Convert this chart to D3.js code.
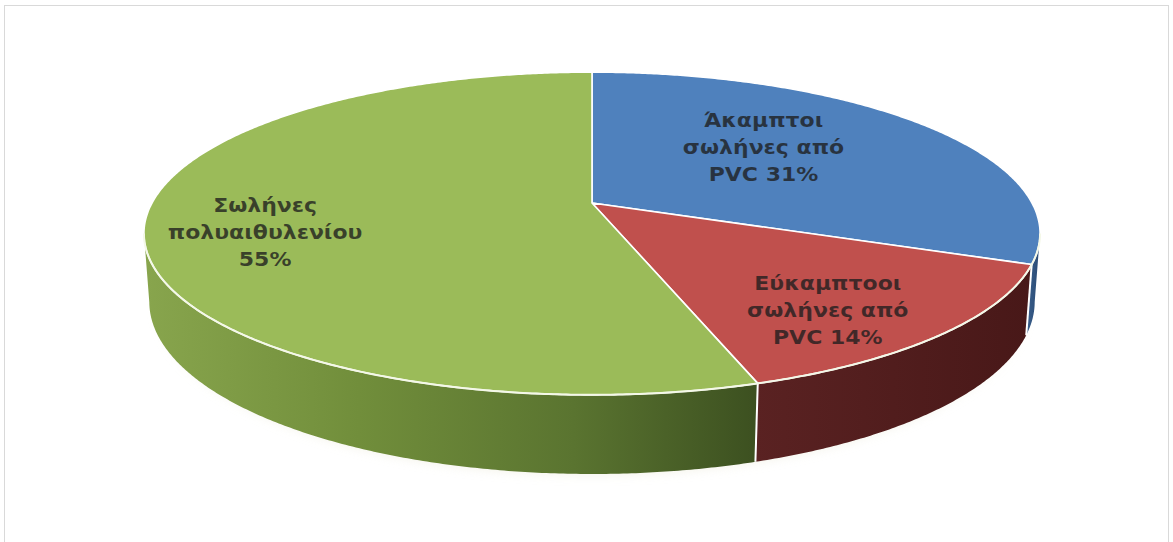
<!DOCTYPE html>
<html>
<head>
<meta charset="utf-8">
<script src="https://cdn.jsdelivr.net/npm/d3@7"></script>
<style>
  body { margin: 0; background: #fff; }
</style>
</head>
<body>
<div id="my_pie"></div>
<script>
// data
const categories = [
  ["Άκαμπτοι", "σωλήνες από", "PVC"],
  ["Εύκαμπτοοι", "σωλήνες από", "PVC"],
  ["Σωλήνες", "πολυαιθυλενίου"]
];
const values = [31, 14, 55];
const pctOwnLine = [false, false, true];
const topColors = ["#4f81bd", "#c0504d", "#9bbb59"];

const pie3d = {
  specs : {width: 1173, height: 542, cx: 592, cy: 203, R: 440, T: 72, alpha: 0.3615, dist: 2179},
  svg : null,
  initialize : () => {
    pie3d.svg = d3.select("#my_pie")
      .append("svg")
      .attr("width", pie3d.specs.width)
      .attr("height", pie3d.specs.height);
    pie3d.draw();
  },
  // phi clockwise from the back of the pie, r radius, y height (0 = top face)
  project : (phi, r, y) => {
    const {cx, cy, alpha, dist} = pie3d.specs;
    const X = r * Math.sin(phi), Z = -r * Math.cos(phi);
    const yc = y * Math.cos(alpha) - Z * Math.sin(alpha);
    const depth = dist - (Z * Math.cos(alpha) + y * Math.sin(alpha));
    const s = dist / depth;
    return [cx + X * s, cy - yc * s];
  },
  arcPts : (a0, a1, r, y) => {
    const n = Math.max(2, Math.ceil((a1 - a0) / 0.008));
    return d3.range(n + 1).map(i => pie3d.project(a0 + (a1 - a0) * i / n, r, y));
  },
  draw : () => {
    const svg = pie3d.svg;
    const {R, T, alpha, dist} = pie3d.specs;
    const project = pie3d.project;

    // chart frame
    svg.append("rect")
      .attr("x", 4.5).attr("y", 5.5)
      .attr("width", 1164).attr("height", 600)
      .attr("fill", "none")
      .attr("stroke", "#d9d9d9");

    const arcs = d3.pie().sort(null)(values);

    // silhouette of the side wall
    const k = R * Math.cos(alpha) / dist;
    const phiL = Math.acos(-k), phiR = 2 * Math.PI - Math.acos(-k);

    const defs = svg.append("defs");
    const sideGrads = [
      [["0", "#3a5f8c"], ["1", "#2a4a74"]],
      [["0", "#5a2222"], ["1", "#481818"]],
      [["0", "#88a54d"], ["0.35", "#718e3b"], ["0.7", "#5a7430"], ["1", "#3c5020"]]
    ];
    const line = d3.line().curve(d3.curveLinearClosed);

    // faint shadow under the pie
    const blur = defs.append("filter").attr("id", "blur").attr("x", "-20%").attr("y", "-50%").attr("width", "140%").attr("height", "200%");
    blur.append("feGaussianBlur").attr("stdDeviation", 6);
    svg.append("path")
      .attr("d", line(pie3d.arcPts(phiL, phiR, R * 0.98, -T - 4)))
      .attr("fill", "#e8e6d0")
      .attr("opacity", 0.6)
      .attr("filter", "url(#blur)");

    // side walls
    arcs.forEach((a, i) => {
      const lo = Math.max(a.startAngle, phiL), hi = Math.min(a.endAngle, phiR);
      if (lo >= hi) return;
      const top = pie3d.arcPts(lo, hi, R, 0);
      const bot = pie3d.arcPts(lo, hi, R, -T).reverse();
      const xs = top.concat(bot).map(p => p[0]);
      const g = defs.append("linearGradient")
        .attr("id", "side" + i)
        .attr("gradientUnits", "userSpaceOnUse")
        .attr("x1", d3.min(xs)).attr("x2", d3.max(xs))
        .attr("y1", 0).attr("y2", 0);
      sideGrads[i].forEach(s => g.append("stop").attr("offset", s[0]).attr("stop-color", s[1]));
      svg.append("path")
        .attr("d", line(top.concat(bot)))
        .attr("fill", "url(#side" + i + ")");
    });

    // white seams on the side at slice boundaries
    arcs.forEach(a => {
      const phi = a.endAngle;
      if (phi > phiL && phi < phiR) {
        const p0 = project(phi, R, 0), p1 = project(phi, R, -T);
        svg.append("line")
          .attr("x1", p0[0]).attr("y1", p0[1])
          .attr("x2", p1[0]).attr("y2", p1[1])
          .attr("stroke", "#fff").attr("stroke-width", 2);
      }
    });

    // top faces
    const c = project(0, 0, 0);
    arcs.forEach((a, i) => {
      const pts = [c].concat(pie3d.arcPts(a.startAngle, a.endAngle, R, 0));
      svg.append("path")
        .attr("d", line(pts))
        .attr("fill", topColors[i])
        .attr("stroke", "#fff")
        .attr("stroke-width", 1.6)
        .attr("stroke-linejoin", "round");
    });

    // rim highlight along the front edge
    svg.append("path")
      .attr("d", d3.line()(pie3d.arcPts(phiL, phiR, R, 0)))
      .attr("fill", "none")
      .attr("stroke", "#f4f8e8")
      .attr("stroke-width", 2);

    // labels
    const labelLayout = [[0.57, -0.15], [0.77, 0.09], [0.74, -0.09]];
    arcs.forEach((a, i) => {
      const mid = (a.startAngle + a.endAngle) / 2 + labelLayout[i][1];
      const p = project(mid, R * labelLayout[i][0], 0);
      const lines = categories[i].slice();
      const pct = values[i] + "%";
      if (pctOwnLine[i]) lines.push(pct);
      else lines[lines.length - 1] += " " + pct;
      const g = svg.append("g")
        .attr("transform", "translate(" + p[0] + "," + p[1] + ") scale(1.1,1)");
      g.append("text")
        .attr("text-anchor", "middle")
        .style("font-family", "'DejaVu Sans', sans-serif")
        .style("font-weight", "bold")
        .style("font-size", "20px")
        .attr("fill", "#1e1e1e")
        .attr("fill-opacity", 0.78)
        .selectAll("tspan")
        .data(lines)
        .join("tspan")
          .attr("x", 0)
          .attr("y", (d, j) => (j - 1) * 27 + 7)
          .text(d => d);
    });
  }
}

document.addEventListener("DOMContentLoaded", pie3d.initialize());
</script>
</body>
</html>
